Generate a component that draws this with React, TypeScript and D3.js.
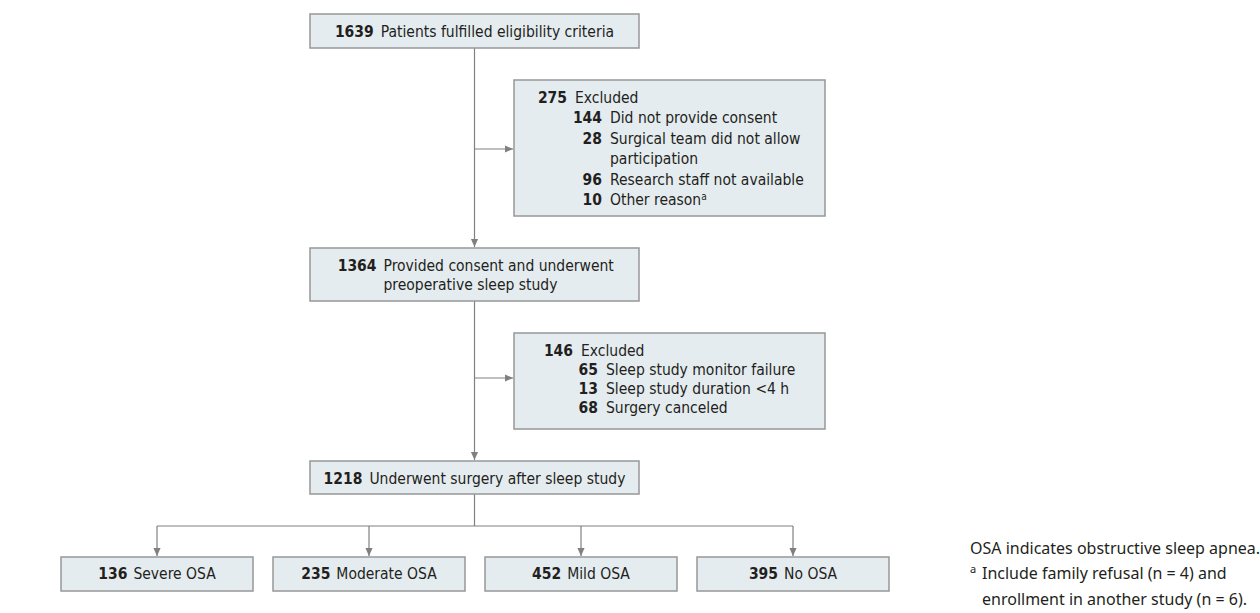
import React from 'react';
import * as d3 from 'd3';

// flow data
const mainCounts = [1639, 1364, 1218];
const mainLabels = [
    ['Patients fulfilled eligibility criteria'],
    ['Provided consent and underwent', 'preoperative sleep study'],
    ['Underwent surgery after sleep study'],
];
const excludedCounts = [275, 146];
const reasonCounts = [
    [144, 28, 96, 10],
    [65, 13, 68],
];
const reasonLabels = [
    [['Did not provide consent'], ['Surgical team did not allow', 'participation'], ['Research staff not available'], ['Other reason']],
    [['Sleep study monitor failure'], ['Sleep study duration <4 h'], ['Surgery canceled']],
];
const reasonNotes = [[null, null, null, 'a'], [null, null, null]];
const groups = ['Severe OSA', 'Moderate OSA', 'Mild OSA', 'No OSA'];
const groupCounts = [136, 235, 452, 395];
const footnotes = ['OSA indicates obstructive sleep apnea.', 'Include family refusal (n = 4) and', 'enrollment in another study (n = 6).'];

const W = 1260;
const H = 613;
const FONT = '"Liberation Sans Narrow", "DejaVu Sans Condensed", sans-serif';
const NOTE_FONT = '"Noto Sans", sans-serif';
const FILL = '#e5ecf0';
const STROKE = '#979797';
const LINE = '#808080';
const INK = '#231f20';

// layout
const mainX = [310, 639];
const mainBoxes = [
    { top: 14, bottom: 48 },
    { top: 248, bottom: 301 },
    { top: 461, bottom: 494 },
];
const exclX = [514, 825];
const exclBoxes = [
    { top: 80, bottom: 216, arrowY: 149, headEnd: 567, subEnd: 602, lineStep: 20.4 },
    { top: 333, bottom: 429, arrowY: 378, headEnd: 573, subEnd: 598, lineStep: 19 },
];
const branchY = 526;
const groupTop = 557;
const groupBottom = 591;

const Arrow: React.FC<{ x: number; y: number; dir: 'down' | 'right' }> = ({ x, y, dir }) => {
    const l = 8, w = 3.6;
    const d = dir === 'down'
        ? `M${x},${y}L${x - w},${y - l}L${x + w},${y - l}Z`
        : `M${x},${y}L${x - l},${y - w}L${x - l},${y + w}Z`;
    return <path d={d} fill={LINE} />;
};

const App: React.FC = () => {
    const cx = (mainX[0] + mainX[1]) / 2;
    const xGroups = d3.scaleBand<string>()
        .domain(groups)
        .range([61, 889])
        .paddingInner(20 / 212)
        .paddingOuter(0);
    const mid = (g: string) => xGroups(g)! + xGroups.bandwidth() / 2;

    const line = d3.line();

    return (
        <div style={{ position: 'absolute', left: 0, top: 0 }}>
            <svg width={W} height={H} style={{ display: 'block', background: '#fff' }} fontFamily={FONT}>
                {/* vertical trunk */}
                {mainBoxes.slice(0, -1).map((b, i) => (
                    <g key={'trunk' + i}>
                        <path d={line([[cx, b.bottom], [cx, mainBoxes[i + 1].top - 1]]) || ''} stroke={LINE} strokeWidth={1.2} fill="none" />
                        <Arrow x={cx} y={mainBoxes[i + 1].top - 1} dir="down" />
                    </g>
                ))}
                {/* side arrows to exclusion boxes */}
                {exclBoxes.map((b, i) => (
                    <g key={'side' + i}>
                        <path d={line([[cx, b.arrowY], [exclX[0] - 1, b.arrowY]]) || ''} stroke={LINE} strokeWidth={1.2} fill="none" />
                        <Arrow x={exclX[0] - 1} y={b.arrowY} dir="right" />
                    </g>
                ))}
                {/* branches */}
                <path d={line([[cx, mainBoxes[2].bottom], [cx, branchY]]) || ''} stroke={LINE} strokeWidth={1.2} fill="none" />
                <path
                    d={line([[mid(groups[0]), branchY], [mid(groups[groups.length - 1]), branchY]]) || ''}
                    stroke={LINE} strokeWidth={1.2} fill="none"
                />
                {groups.map(g => (
                    <g key={'br' + g}>
                        <path d={line([[mid(g), branchY], [mid(g), groupTop - 1]]) || ''} stroke={LINE} strokeWidth={1.2} fill="none" />
                        <Arrow x={mid(g)} y={groupTop - 1} dir="down" />
                    </g>
                ))}

                {/* main boxes */}
                {mainBoxes.map((b, i) => (
                    <g key={'main' + i}>
                        <rect x={mainX[0]} y={b.top} width={mainX[1] - mainX[0]} height={b.bottom - b.top} fill={FILL} stroke={STROKE} strokeWidth={1.5} />
                        {mainLabels[i].length === 1 ? (
                            <text x={cx} y={b.top + 23} textAnchor="middle" fontSize={15.5} fill={INK}>
                                <tspan fontWeight="bold">{mainCounts[i]}</tspan>
                                <tspan dx={7}>{mainLabels[i][0]}</tspan>
                            </text>
                        ) : (
                            <g>
                                <text x={cx - 98} y={b.top + 23} textAnchor="end" fontSize={15.5} fontWeight="bold" fill={INK}>{mainCounts[i]}</text>
                                {mainLabels[i].map((t, j) => (
                                    <text key={j} x={cx - 91} y={b.top + 23 + j * 19} fontSize={15.5} fill={INK}>{t}</text>
                                ))}
                            </g>
                        )}
                    </g>
                ))}

                {/* exclusion boxes */}
                {exclBoxes.map((b, i) => {
                    let row = 1;
                    const base = b.top + 23;
                    return (
                        <g key={'ex' + i}>
                            <rect x={exclX[0]} y={b.top} width={exclX[1] - exclX[0]} height={b.bottom - b.top} fill={FILL} stroke={STROKE} strokeWidth={1.5} />
                            <text x={b.headEnd} y={base} textAnchor="end" fontSize={15.5} fontWeight="bold" fill={INK}>{excludedCounts[i]}</text>
                            <text x={b.headEnd + 8} y={base} fontSize={15.5} fill={INK}>Excluded</text>
                            {reasonCounts[i].map((n, j) => {
                                const r = row;
                                row += reasonLabels[i][j].length;
                                return (
                                    <g key={j}>
                                        <text x={b.subEnd} y={base + r * b.lineStep} textAnchor="end" fontSize={15.5} fontWeight="bold" fill={INK}>{n}</text>
                                        {reasonLabels[i][j].map((t, k) => (
                                            <text key={k} x={b.subEnd + 8} y={base + (r + k) * b.lineStep} fontSize={15.5} fill={INK}>
                                                {t}
                                                {reasonNotes[i][j] && k === 0 ? <tspan fontSize={10} dy={-5}>{reasonNotes[i][j]}</tspan> : null}
                                            </text>
                                        ))}
                                    </g>
                                );
                            })}
                        </g>
                    );
                })}

                {/* outcome boxes */}
                {groups.map((g, i) => {
                    const x0 = xGroups(g)!;
                    return (
                        <g key={'grp' + g}>
                            <rect x={x0} y={groupTop} width={xGroups.bandwidth()} height={groupBottom - groupTop} fill={FILL} stroke={STROKE} strokeWidth={1.5} />
                            <text x={mid(g)} y={groupTop + 22} textAnchor="middle" fontSize={15.5} fill={INK}>
                                <tspan fontWeight="bold">{groupCounts[i]}</tspan>
                                <tspan dx={6}>{g}</tspan>
                            </text>
                        </g>
                    );
                })}

                {/* footnotes */}
                <g fontFamily={NOTE_FONT} fontSize={16} fill={INK}>
                    <text x={970} y={554}>{footnotes[0]}</text>
                    <text x={970} y={579}><tspan fontSize={11} dy={-6}>a</tspan></text>
                    <text x={982} y={579}>{footnotes[1]}</text>
                    <text x={982} y={605}>{footnotes[2]}</text>
                </g>
            </svg>
        </div>
    );
};

export default App;
